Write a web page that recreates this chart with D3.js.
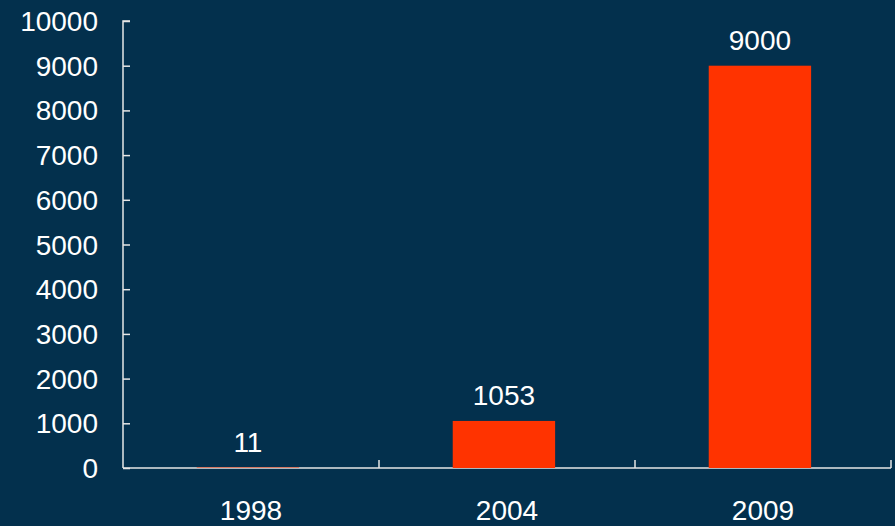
<!DOCTYPE html>
<html><head><meta charset="utf-8">
<script src="https://cdn.jsdelivr.net/npm/d3@7"></script>
<style>
html,body{margin:0;padding:0;background:#03304d;}
svg{display:block;}
text{font-family:"Liberation Sans",Arial,sans-serif;fill:#ffffff;}
</style></head>
<body>
<svg id="chart" width="895" height="526"></svg>
<script>
const categories = ["1998", "2004", "2009"];
const values = [11, 1053, 9000];
const yTicks = [0,1000,2000,3000,4000,5000,6000,7000,8000,9000,10000];

const W = 895, H = 526;
const margin = {left:123, right:4, top:21, bottom:58};
const svg = d3.select("#chart");
svg.append("rect").attr("width",W).attr("height",H).attr("fill","#03304d");

const x = d3.scaleBand().domain(categories).range([margin.left, W - margin.right])
  .paddingInner(0.6).paddingOuter(0.3).align(0.48);
const y = d3.scaleLinear().domain([0,10000]).range([H - margin.bottom, margin.top]);

const axisColor = "#e6e6e6";
const fs = 28;

// y axis
const gy = svg.append("g").attr("transform",`translate(${margin.left},0)`)
  .call(d3.axisRight(y).tickValues(yTicks).tickSize(7).tickFormat(""));
gy.selectAll("path,line").attr("stroke",axisColor).attr("stroke-width",1.5);
gy.select(".domain").attr("d",`M7,${y(10000)}H0V${y(0)}`);
svg.append("g").selectAll("text").data(yTicks).join("text")
  .attr("x", margin.left - 25).attr("y", d => y(d)).attr("dy","0.36em")
  .attr("text-anchor","end").attr("font-size",fs).text(d => d);

// x axis
const step = x.step();
const x0 = margin.left, x1 = W - margin.right;
const bounds = categories.map((c,i) => x0 + step*(i+1));
const gx = svg.append("g");
gx.append("line").attr("x1",x0).attr("x2",x1).attr("y1",y(0)).attr("y2",y(0))
  .attr("stroke",axisColor).attr("stroke-width",1.5);
gx.selectAll("line.tick").data(bounds).join("line").attr("class","tick")
  .attr("x1",d=>d).attr("x2",d=>d).attr("y1",y(0)).attr("y2",y(0)-8)
  .attr("stroke",axisColor).attr("stroke-width",1.5);
gx.selectAll("text").data(categories).join("text")
  .attr("x",(d,i)=> x0 + step*(i+0.5)).attr("y", 520)
  .attr("text-anchor","middle").attr("font-size",fs).text(d=>d);

// bars
svg.append("g").selectAll("rect").data(values).join("rect")
  .attr("x",(d,i)=>x(categories[i])).attr("width",x.bandwidth())
  .attr("y",d=>y(d)).attr("height",d=>y(0)-y(d)).attr("fill","#ff3300");

// value labels
svg.append("g").selectAll("text").data(values).join("text")
  .attr("x",(d,i)=>x(categories[i]) + x.bandwidth()/2)
  .attr("y",d=>y(d)-16).attr("text-anchor","middle").attr("font-size",fs).text(d=>d);
</script>
</body></html>
